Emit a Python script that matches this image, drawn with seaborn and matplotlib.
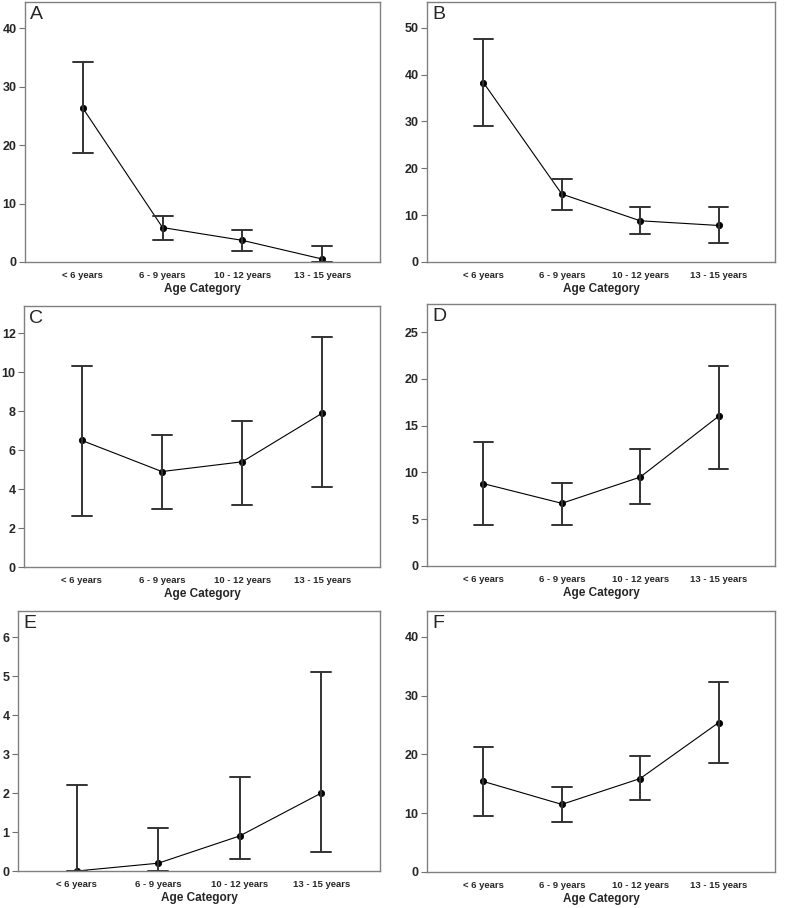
import pandas as pd
import seaborn as sns
import matplotlib.pyplot as plt

# age groups on the x axis
ages = ["< 6 years", "6 - 9 years", "10 - 12 years", "13 - 15 years"]

# mean / lower / upper
a_mean = [26.4, 5.9, 3.7, 0.5]
a_low = [18.7, 3.8, 1.9, 0.0]
a_up = [34.2, 7.9, 5.5, 2.8]

b_mean = [38.3, 14.5, 8.8, 7.8]
b_low = [29.0, 11.2, 6.0, 4.1]
b_up = [47.5, 17.8, 11.7, 11.8]

c_mean = [6.5, 4.9, 5.4, 7.9]
c_low = [2.6, 3.0, 3.2, 4.1]
c_up = [10.3, 6.8, 7.5, 11.8]

d_mean = [8.8, 6.7, 9.5, 16.0]
d_low = [4.4, 4.4, 6.65, 10.4]
d_up = [13.3, 8.9, 12.5, 21.4]

e_mean = [0.0, 0.2, 0.9, 2.0]
e_low = [0.0, 0.0, 0.3, 0.5]
e_up = [2.2, 1.1, 2.4, 5.1]

f_mean = [15.4, 11.5, 15.9, 25.4]
f_low = [9.5, 8.5, 12.2, 18.5]
f_up = [21.2, 14.4, 19.7, 32.4]

panels = [
    ("A", a_mean, a_low, a_up, 44.5, [0, 10, 20, 30, 40]),
    ("B", b_mean, b_low, b_up, 55.5, [0, 10, 20, 30, 40, 50]),
    ("C", c_mean, c_low, c_up, 13.4, [0, 2, 4, 6, 8, 10, 12]),
    ("D", d_mean, d_low, d_up, 28.0, [0, 5, 10, 15, 20, 25]),
    ("E", e_mean, e_low, e_up, 6.67, [0, 1, 2, 3, 4, 5, 6]),
    ("F", f_mean, f_low, f_up, 44.4, [0, 10, 20, 30, 40]),
]

sns.set_style("white")
plt.rcParams["font.family"] = ["Liberation Sans", "DejaVu Sans"]

W, H = 785, 908
fig = plt.figure(figsize=(W / 100, H / 100), dpi=100)

# axes boxes in pixels: left, top, right, bottom
boxes = [
    (25, 2, 380, 262),
    (427, 2, 775, 262),
    (24, 306, 380, 567),
    (427, 304, 775, 566),
    (18, 611, 380, 871),
    (427, 611, 775, 872),
]

for (letter, mean, low, up, ytop, yt), (l, t, r, b) in zip(panels, boxes):
    ax = fig.add_axes([l / W, 1 - b / H, (r - l) / W, (b - t) / H])
    # long table: low / mean / up per age -> median = mean, min-max = interval
    df = pd.DataFrame({
        "age": ages * 3,
        "val": list(low) + list(mean) + list(up),
    })
    sns.pointplot(data=df, x="age", y="val", order=ages, ax=ax,
                  estimator="median", errorbar=("pi", 100),
                  color="black", markersize=4.5, linewidth=0.8,
                  capsize=0.25,
                  err_kws={"linewidth": 1.4, "color": "#333333"})
    ax.set_xlim(-0.72, 3.72)
    ax.set_ylim(0, ytop)
    ax.set_yticks(yt)
    ax.set_xlabel("Age Category", fontsize=8.5, fontweight="bold", labelpad=2)
    ax.set_ylabel("")
    for s in ax.spines.values():
        s.set_color("#808080")
        s.set_linewidth(1.0)
    ax.tick_params(axis="y", left=True, length=4.5, width=0.8, color="#707070",
                   pad=1.5, labelsize=9)
    ax.tick_params(axis="x", bottom=False, length=0, pad=6.5, labelsize=6.8)
    for lab in ax.get_xticklabels() + ax.get_yticklabels():
        lab.set_fontweight("bold")
    ax.text(0.015, 0.985, letter, transform=ax.transAxes, fontsize=14,
            va="top", ha="left")

fig.savefig("out.png", dpi=100)
